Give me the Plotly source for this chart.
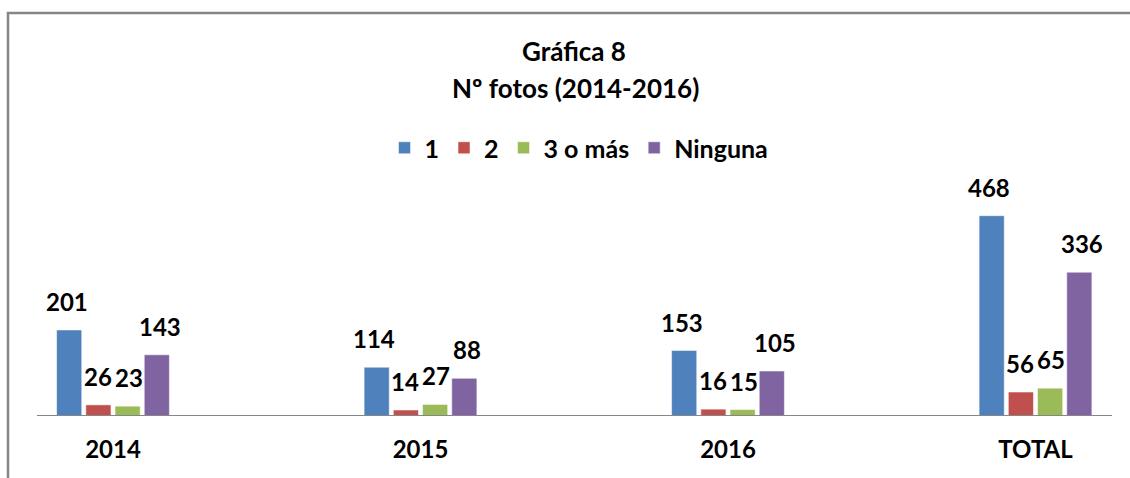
import plotly.graph_objects as go

categories = ["2014", "2015", "2016", "TOTAL"]
series_names = ["1", "2", "3 o más", "Ninguna"]
v_1 = [201, 114, 153, 468]
v_2 = [26, 14, 16, 56]
v_3 = [23, 27, 15, 65]
v_ninguna = [143, 88, 105, 336]
colors = ["#4F81BD", "#C0504D", "#9BBB59", "#8064A2"]

all_values = [v_1, v_2, v_3, v_ninguna]

W, H = 1130, 478
ML, MR, MT, MB = 0, 0, 190, 62
plot_h = H - MT - MB
px_per_unit = 0.428
ymax = plot_h / px_per_unit
cat_px = 307.5
first_px = 113.0
x0 = -first_px / cat_px
x1 = (W - first_px) / cat_px

FONT = "Lato"
f_title = 26
f_legend = 25
f_num = 24

fig = go.Figure()
for name, vals, col in zip(series_names, all_values, colors):
    fig.add_trace(go.Bar(
        name=name, x=categories, y=vals,
        marker=dict(color=col, line=dict(color="rgba(255,255,255,0.5)", width=1)),
        hoverinfo="x+y+name",
    ))

slot = 31.0
annotations = []
for i, vals in enumerate(all_values):
    off = (i - 1.5) * slot
    for ci, v in enumerate(vals):
        annotations.append(dict(
            x=ci, y=v, xref="x", yref="y", text=f"<b>{v}</b>", showarrow=False,
            xshift=off, yshift=12, yanchor="bottom", xanchor="center",
            font=dict(family=FONT, size=f_num, color="black"),
        ))

annotations.append(dict(
    x=575 / W, xref="paper", y=(H - MB - 88) / plot_h, yref="paper",
    text="<b>Nº fotos (2014-2016)</b>", showarrow=False, xanchor="center", yanchor="middle",
    font=dict(family=FONT, size=f_title, color="black"),
))

shapes = [
    dict(type="line", xref="paper", yref="y", x0=37 / W, x1=1112 / W, y0=0, y1=0,
         line=dict(color="#868686", width=2), layer="above"),
    dict(type="rect", xref="paper", yref="paper",
         x0=8 / W, x1=(W + 10) / W,
         y0=(H - MB - (H + 10)) / plot_h, y1=(H - MB - 13) / plot_h,
         line=dict(color="#868686", width=2.5), fillcolor="rgba(0,0,0,0)", layer="below"),
]

fig.update_layout(
    width=W, height=H,
    margin=dict(l=ML, r=MR, t=MT, b=MB, pad=0),
    paper_bgcolor="white", plot_bgcolor="white",
    barmode="group", bargap=0.62, bargroupgap=0.14,
    font=dict(family=FONT, size=f_num, color="black"),
    title=dict(text="<b>Gráfica 8</b>", x=574 / W, xanchor="center",
               y=1 - 52 / H, yanchor="middle", yref="container",
               font=dict(family=FONT, size=f_title, color="black")),
    legend=dict(orientation="h", x=579 / W, xanchor="center",
                y=(H - MB - 148) / plot_h, yanchor="middle",
                font=dict(family=FONT, size=f_legend, color="black", weight="bold"),
                itemwidth=30, traceorder="normal", bgcolor="rgba(0,0,0,0)"),
    xaxis=dict(type="category", range=[x0, x1], showline=False, showgrid=False,
               ticks="outside", ticklen=12, tickcolor="rgba(0,0,0,0)",
               tickfont=dict(family=FONT, size=f_num, color="black", weight="bold"),
               fixedrange=True),
    yaxis=dict(range=[0, ymax], visible=False, showgrid=False, fixedrange=True),
    annotations=annotations,
    shapes=shapes,
    showlegend=True,
)

fig.write_html("out.html", config={"displayModeBar": False},
               post_script="document.body.style.margin='0px';document.body.style.padding='0px';")
